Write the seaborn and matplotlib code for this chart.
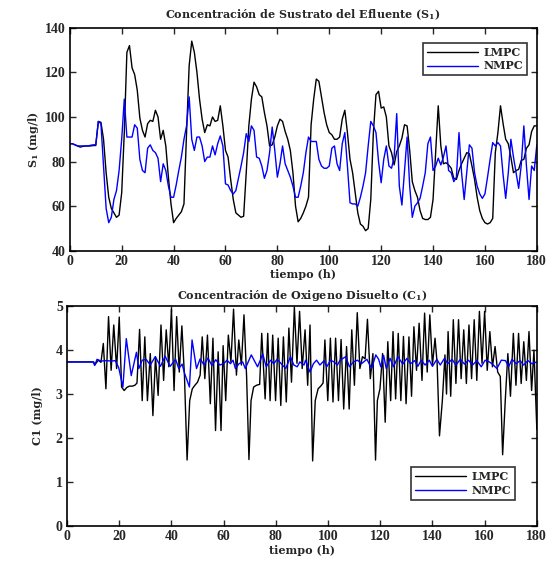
import numpy as np
import pandas as pd
import matplotlib
matplotlib.use("Agg")
import matplotlib.pyplot as plt
import seaborn as sns

# ---------------- data ----------------
hours = np.arange(0, 181)

s1_lmpc = [88, 88, 87.5, 87, 86.5, 86.8, 87, 87, 87, 87.2,
           87.2, 98, 97.6, 90, 75, 64, 59, 57, 55, 56,
           66, 93, 129, 132, 122, 119, 112, 99.5, 94, 91,
           97, 98.5, 98, 103, 100, 90, 94, 87, 73, 61,
           52.6, 54.5, 56, 57.5, 61, 93, 123, 134, 129, 120,
           108, 99, 93, 96.5, 96, 100, 98, 98.5, 105, 96,
           85, 82, 72, 63, 57, 56, 55, 55.5, 75, 96,
           108, 115.6, 113.5, 110, 109, 102, 96, 87, 87.5, 91,
           96, 99, 98, 93.5, 90, 85, 75, 60, 53, 54.5,
           57, 60, 64, 96.5, 108, 117, 116, 109, 102, 96.5,
           93, 92, 90, 90, 91, 99, 103, 93, 81, 75,
           66, 57, 52, 51, 49, 50, 63, 93, 110, 111.5,
           104, 104.5, 100, 87, 84, 78.5, 84.5, 87, 90.5, 96.5,
           96, 85, 71, 67, 64, 58, 54.5, 54, 54, 55,
           63, 84, 105, 87, 79, 79.5, 78.5, 77, 72.5, 72,
           76, 79, 81.5, 84, 83.5, 78, 72, 64, 58, 54.5,
           52.6, 52, 52.6, 54.5, 84, 93, 105, 97, 90, 88,
           82, 75, 76, 76.5, 80.5, 81, 86, 87.5, 93.5, 96,
           96]

s1_nmpc = [88, 88, 87.5, 87, 87, 87, 87, 87, 87.3, 87.5,
           87.5, 98, 97, 78, 59, 52.6, 55, 63, 67, 76,
           90, 108, 91, 91, 91, 96.5, 95, 81, 76, 75,
           86, 87.5, 85, 84, 81.5, 71, 79, 76, 69, 64,
           64, 69.5, 76, 82, 90, 96, 109, 90, 85, 91,
           91, 87, 80, 82, 82, 87, 83, 88, 91.5, 87,
           70, 69.5, 67, 65.5, 67, 72.5, 78, 84, 92.5, 89,
           96, 94, 82, 81.5, 78, 72.5, 76, 84, 95.5, 85,
           73, 79, 87, 79, 76, 73, 69, 64, 64, 69,
           75, 84, 91, 89, 89, 89, 81, 78, 77, 77,
           78, 86, 87, 79, 76, 88, 93, 78, 61.5, 61,
           61, 60, 64, 69, 75, 87, 98, 96, 93, 80,
           70.5, 81, 87, 78, 77, 82, 101.5, 69, 60.5, 76,
           91, 69, 55, 60, 61.5, 63.5, 69, 75, 88, 91,
           76, 78, 81.5, 78.5, 82, 87, 76, 75, 71, 73,
           93, 75, 63, 75, 87.5, 86, 75, 69, 65.5, 63.5,
           65.5, 73, 81, 88.5, 87, 88.5, 87, 74, 63.5, 75,
           90, 82, 75, 68, 78.5, 96, 78, 63, 78, 76,
           87.5]

c1_lmpc_t = [0, 10.2, 10.7, 12.0, 13.0, 13.9, 14.9, 15.9, 16.9, 17.9,
             19.0, 20.0, 20.9, 21.9, 22.9, 23.9, 25.0, 26.0, 26.8, 27.8,
             28.8, 29.8, 30.8, 31.9, 32.9, 33.9, 34.9, 36.0, 37.0, 38.0,
             39.0, 40.0, 41.0, 42.0, 43.0, 44.0, 45.0, 46.0, 47.0, 48.0,
             49.0, 50.0, 51.0, 51.8, 52.8, 53.8, 54.9, 55.9, 56.9, 57.9,
             59.0, 59.8, 60.8, 61.8, 62.8, 63.8, 64.9, 65.8, 66.8, 67.8,
             68.8, 69.7, 70.5, 71.5, 72.6, 73.8, 74.6, 75.9, 76.9, 77.8,
             78.8, 79.9, 80.9, 81.9, 82.9, 84.0, 85.0, 86.0, 87.1, 88.1,
             89.1, 90.1, 91.2, 92.2, 93.1, 94.1, 95.1, 96.2, 97.2, 98.1,
             98.8, 99.9, 100.9, 101.9, 102.9, 104.0, 105.0, 106.0, 107.1, 108.1,
             109.1, 110.1, 111.2, 112.2, 113.2, 114.2, 115.1, 116.2, 117.2, 118.2,
             118.9, 119.9, 120.9, 121.9, 122.9, 124.0, 124.9, 125.9, 126.9, 127.9,
             128.9, 129.9, 131.0, 132.0, 132.9, 133.9, 134.9, 136.0, 137.0, 138.0,
             139.0, 140.0, 141.0, 141.8, 142.7, 143.8, 144.8, 145.4, 146.0, 147.0,
             148.0, 149.0, 150.0, 151.0, 152.0, 153.0, 154.0, 155.0, 156.0, 157.0,
             158.0, 159.0, 160.0, 161.0, 162.0, 163.0, 164.0, 165.0, 166.0, 166.9,
             167.9, 168.9, 169.9, 171.0, 172.0, 173.0, 174.0, 175.0, 176.0, 177.0,
             178.0, 178.9, 180.0]
c1_lmpc = [3.73, 3.73, 3.67, 3.77, 3.72, 4.15, 3.12, 4.76, 3.54, 4.57,
           3.58, 4.75, 3.16, 3.08, 3.15, 3.18, 3.18, 3.20, 3.25, 4.47,
           2.85, 4.30, 2.85, 3.92, 2.51, 3.85, 2.97, 4.57, 3.31, 4.46,
           3.62, 4.93, 3.08, 4.76, 3.50, 4.55, 3.40, 1.50, 2.85, 3.12,
           3.20, 3.27, 3.43, 4.30, 3.35, 4.34, 2.78, 4.27, 2.17, 3.96,
           2.17, 4.10, 2.85, 4.34, 3.73, 4.93, 3.43, 4.23, 3.66, 4.80,
           3.40, 1.51, 2.85, 3.16, 3.20, 3.22, 4.38, 2.89, 4.38, 2.85,
           4.34, 2.85, 4.27, 2.74, 4.30, 2.82, 4.50, 3.27, 4.98, 3.70,
           4.88, 3.58, 4.46, 3.20, 4.57, 1.48, 2.85, 3.12, 3.18, 3.25,
           4.23, 2.85, 4.27, 2.82, 4.27, 2.85, 4.24, 2.66, 4.08, 2.66,
           4.46, 3.20, 4.85, 3.58, 3.85, 3.80, 4.70, 3.35, 3.92, 1.50,
           2.85, 3.12, 3.92, 2.36, 4.19, 2.85, 4.42, 2.89, 4.38, 2.85,
           4.31, 2.78, 4.30, 2.95, 4.53, 3.54, 4.61, 3.31, 4.84, 3.50,
           4.80, 3.66, 4.27, 3.70, 2.05, 2.85, 3.89, 3.00, 4.42, 2.95,
           4.69, 3.24, 4.69, 3.35, 4.46, 3.24, 4.57, 3.35, 4.69, 3.31,
           4.88, 3.70, 4.88, 3.54, 4.42, 3.62, 4.08, 3.50, 3.40, 1.62,
           2.85, 3.92, 2.95, 4.38, 3.20, 4.38, 3.24, 4.19, 3.31, 4.42,
           3.08, 4.00, 2.20]

c1_nmpc_t = [0, 10.0, 10.6, 11.5, 13.0, 15.0, 17.0, 18.5, 19.8, 21.4,
             22.7, 24.6, 26.6, 27.5, 28.8, 30.3, 31.9, 33.8, 35.8, 37.6,
             39.5, 41.6, 42.8, 44.1, 45.1, 46.9, 47.9, 49.6, 51.0, 52.5,
             54.0, 55.5, 57.0, 58.5, 60.0, 61.3, 62.6, 63.6, 64.5, 65.9,
             67.3, 68.3, 70.6, 73.0, 75.0, 76.3, 78.0, 79.2, 80.5, 82.2,
             83.8, 85.6, 86.9, 88.2, 89.2, 90.8, 91.4, 93.1, 94.4, 95.6,
             96.9, 98.5, 99.5, 101.0, 102.3, 103.6, 104.6, 106.8, 108.2, 109.7,
             111.3, 112.8, 114.9, 116.7, 118.3, 119.4, 120.2, 121.3, 122.3, 123.8,
             125.1, 126.8, 128.6, 130.2, 131.6, 133.2, 134.4, 135.7, 137.2, 138.8,
             140.0, 141.7, 143.0, 144.6, 145.9, 147.5, 149.0, 150.7, 152.3, 153.8,
             155.4, 157.0, 158.7, 160.2, 161.8, 163.0, 164.7, 166.4, 168.0, 169.2,
             170.5, 172.1, 173.6, 174.9, 176.6, 178.1, 180.0]
c1_nmpc = [3.73, 3.73, 3.65, 3.79, 3.75, 3.76, 3.75, 3.76, 3.60, 3.16,
           4.26, 3.42, 3.95, 3.58, 3.77, 3.79, 3.66, 3.85, 3.63, 3.86,
           3.63, 3.79, 3.58, 3.68, 3.46, 3.16, 4.23, 3.58, 3.80, 3.66,
           3.82, 3.65, 3.78, 3.66, 3.69, 3.77, 3.69, 3.77, 3.58, 3.69,
           3.73, 3.58, 3.89, 3.62, 3.91, 3.62, 3.77, 3.69, 3.79, 3.68,
           3.58, 3.85, 3.66, 3.62, 3.73, 3.66, 3.77, 3.50, 3.69, 3.77,
           3.66, 3.76, 3.62, 3.77, 3.73, 3.66, 3.77, 3.85, 3.62, 3.73,
           3.77, 3.69, 3.79, 3.58, 3.89, 3.79, 3.62, 3.88, 3.58, 3.81,
           3.62, 3.85, 3.68, 3.81, 3.69, 3.76, 3.63, 3.77, 3.66, 3.77,
           3.63, 3.79, 3.66, 3.81, 3.69, 3.79, 3.66, 3.79, 3.68, 3.77,
           3.66, 3.76, 3.62, 3.77, 3.73, 3.68, 3.58, 3.77, 3.76, 3.62,
           3.79, 3.69, 3.76, 3.66, 3.76, 3.69, 3.73]

x_ticks = list(range(0, 181, 20))
s1_ticks = list(range(40, 141, 20))
c1_ticks = list(range(0, 6))

# ---------------- figure ----------------
sns.set_style("ticks")
plt.rcParams["font.family"] = ["Liberation Serif", "DejaVu Serif"]
plt.rcParams["font.weight"] = "bold"
plt.rcParams["mathtext.fontset"] = "custom"
plt.rcParams["mathtext.rm"] = "DejaVu Serif:bold"
plt.rcParams["mathtext.it"] = "DejaVu Serif:bold"

# wide serif for titles / labels / legend (the original is letter-spaced)
lab = dict(family=["DejaVu Serif"], fontweight="bold", fontsize=8)

fig = plt.figure(figsize=(5.54, 5.61), dpi=100)
ax1 = fig.add_axes([0.126, 0.553, 0.843, 0.3975])
ax2 = fig.add_axes([0.121, 0.0624, 0.848, 0.392])

df_top = pd.DataFrame({"t": hours, "LMPC": s1_lmpc, "NMPC": s1_nmpc})
sns.lineplot(data=df_top, x="t", y="LMPC", color="black", lw=1, ax=ax1, label="LMPC")
sns.lineplot(data=df_top, x="t", y="NMPC", color="#0000ff", lw=1, ax=ax1, label="NMPC")

sns.lineplot(x=c1_lmpc_t, y=c1_lmpc, color="black", lw=1, ax=ax2, label="LMPC")
sns.lineplot(x=c1_nmpc_t, y=c1_nmpc, color="#0000ff", lw=1, ax=ax2, label="NMPC")

def style_axes(ax, yticks, ylim):
    ax.set_xlim(0, 180)
    ax.set_ylim(*ylim)
    ax.set_xticks(x_ticks)
    ax.set_yticks(yticks)
    ax.tick_params(direction="in", length=4, width=1, top=True, right=True,
                   labelsize=10, pad=3)
    for lbl in ax.get_xticklabels() + ax.get_yticklabels():
        lbl.set_fontweight("bold")
    for sp in ax.spines.values():
        sp.set_visible(True)
        sp.set_linewidth(1.2)
        sp.set_color("black")
    ax.set_xlabel("tiempo (h)", labelpad=1, **lab)

style_axes(ax1, s1_ticks, (40, 140))
style_axes(ax2, c1_ticks, (0, 5))

ax1.set_title("Concentración de Sustrato del Efluente (S$_1$)", pad=7, **lab)
ax1.set_ylabel("S$_1$ (mg/l)", labelpad=3, **lab)
ax2.set_title("Concentración de Oxigeno Disuelto (C$_1$)", pad=5, **lab)
ax2.set_ylabel("C1 (mg/l)", labelpad=9, **lab)

legend_pos = [(ax1, "upper right", (0.9786, 0.9327)),
              (ax2, "lower right", (0.953, 0.118))]
for ax, loc, anchor in legend_pos:
    leg = ax.legend(loc=loc, bbox_to_anchor=anchor, borderaxespad=0,
                    handlelength=4.6, frameon=True, fancybox=False,
                    edgecolor="black", borderpad=0.35, labelspacing=0.25,
                    handletextpad=0.5,
                    prop=dict(family="DejaVu Serif", weight="bold", size=8))
    leg.get_frame().set_linewidth(1.2)

fig.savefig("out.png", dpi=100, facecolor="white")
